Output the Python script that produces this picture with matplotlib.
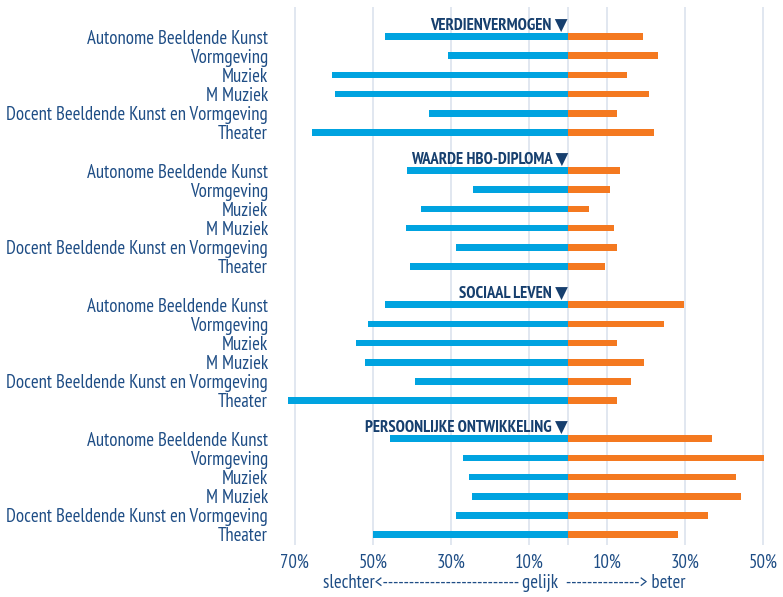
import matplotlib
matplotlib.use("Agg")
import matplotlib.pyplot as plt
from matplotlib.transforms import ScaledTranslation

FONT = ['PT Sans Narrow', 'DejaVu Sans']
plt.rcParams['font.family'] = FONT

# Survey outcome per study programme: share reporting "worse" (slechter) and "better" (beter)
categories = [
    "Autonome Beeldende Kunst",
    "Vormgeving",
    "Muziek",
    "M Muziek",
    "Docent Beeldende Kunst en Vormgeving",
    "Theater",
]
groups = ["VERDIENVERMOGEN", "WAARDE HBO-DIPLOMA", "SOCIAAL LEVEN", "PERSOONLIJKE ONTWIKKELING"]

slechter_verdienvermogen = [47.0, 30.8, 60.5, 59.7, 35.6, 65.6]
beter_verdienvermogen = [19.2, 23.0, 15.0, 20.8, 12.5, 21.9]

slechter_diploma = [41.2, 24.3, 37.6, 41.5, 28.6, 40.6]
beter_diploma = [13.4, 10.6, 5.4, 11.8, 12.6, 9.4]

slechter_sociaal = [47.0, 51.2, 54.4, 52.0, 39.3, 71.8]
beter_sociaal = [29.6, 24.5, 12.4, 19.5, 16.2, 12.6]

slechter_persoonlijk = [45.5, 27.0, 25.4, 24.5, 28.6, 50.0]
beter_persoonlijk = [36.9, 50.1, 43.1, 44.3, 35.7, 28.2]

slechter = [slechter_verdienvermogen, slechter_diploma, slechter_sociaal, slechter_persoonlijk]
beter = [beter_verdienvermogen, beter_diploma, beter_sociaal, beter_persoonlijk]

tick_values = [-70, -50, -30, -10, 10, 30, 50]
tick_labels = ["70%", "50%", "30%", "10%", "10%", "30%", "50%"]

BLUE = "#00a3e0"
ORANGE = "#f47920"
LABEL = "#1e4d85"
TITLE = "#163f6e"
GRID = "#e1e7f0"

W, H = 783, 597
fig = plt.figure(figsize=(W / 100, H / 100), dpi=100)
ax = fig.add_axes([283 / W, 1 - 545 / H, 496 / W, 538 / H])

rows_per_group = len(categories) + 1
ytick_pos = []
ytick_lab = []
for g, name in enumerate(groups):
    base = g * rows_per_group
    ys = [base + 1 + i for i in range(len(categories))]
    ax.barh(ys, [-v for v in slechter[g]], height=0.35, left=0, color=BLUE, zorder=3)
    ax.barh(ys, beter[g], height=0.35, left=0, color=ORANGE, zorder=3)
    ax.text(0, base + 0.66, name + " \u25BC", ha="right", va="baseline",
            fontsize=12, fontweight="bold", color=TITLE, zorder=4, family=FONT)
    ytick_pos += ys
    ytick_lab += categories

for xv in [-70, -50, -30, -10, 0, 10, 30, 50]:
    ax.axvline(xv, color=GRID, lw=1.4, zorder=1)

ax.set_xlim(-73, 54)
ax.set_ylim(4 * rows_per_group - 0.45, -0.55)

ax.set_yticks(ytick_pos)
ax.set_yticklabels(ytick_lab, fontsize=13.5, color=LABEL)
# nudge category labels slightly upward
lift = ScaledTranslation(0, 1.5 / 72, fig.dpi_scale_trans)
for lab in ax.get_yticklabels():
    lab.set_transform(lab.get_transform() + lift)
ax.set_xticks(tick_values)
ax.set_xticklabels(tick_labels, fontsize=13.5, color=LABEL)
ax.tick_params(axis="y", length=0, pad=10.8)
ax.tick_params(axis="x", length=0, pad=6)
for s in ax.spines.values():
    s.set_visible(False)

fig.text(323 / W, 1 - 583 / H,
         "slechter<" + "-" * 26 + " gelijk  " + "-" * 14 + "> beter",
         ha="left", va="center", fontsize=13.5, color=LABEL)

fig.savefig("out.png", dpi=100)
